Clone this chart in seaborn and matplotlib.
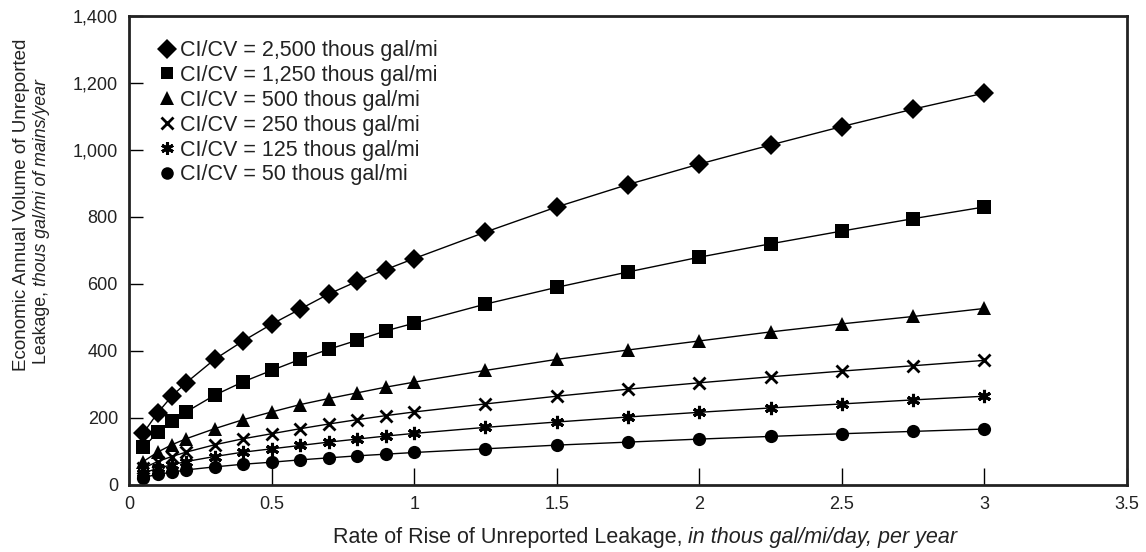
import matplotlib
matplotlib.use("Agg")
import matplotlib.pyplot as plt
import seaborn as sns
import pandas as pd
from matplotlib.lines import Line2D

rate = [0.05, 0.1, 0.15, 0.2, 0.3, 0.4, 0.5, 0.6, 0.7, 0.8, 0.9, 1.0,
        1.25, 1.5, 1.75, 2.0, 2.25, 2.5, 2.75, 3.0]

ci_2500 = [155, 215, 265, 305, 375, 430, 480, 525, 570, 608, 643, 676,
           755, 830, 897, 958, 1015, 1070, 1122, 1170]
ci_1250 = [112, 157, 190, 218, 268, 308, 342, 375, 405, 432, 460, 483,
           540, 590, 636, 680, 720, 758, 795, 830]
ci_500 = [70, 98, 120, 138, 168, 195, 218, 240, 258, 275, 292, 307,
          342, 375, 403, 430, 457, 481, 503, 527]
ci_250 = [50, 70, 85, 98, 120, 138, 153, 168, 182, 195, 207, 218,
          242, 265, 286, 305, 323, 340, 356, 372]
ci_125 = [35, 50, 60, 70, 85, 98, 108, 118, 128, 137, 146, 154,
          172, 188, 203, 217, 230, 242, 254, 265]
ci_50 = [22, 32, 38, 45, 54, 62, 68, 75, 81, 87, 92, 97,
         108, 119, 128, 137, 145, 153, 160, 167]

labels = ["CI/CV = 2,500 thous gal/mi", "CI/CV = 1,250 thous gal/mi",
          "CI/CV = 500 thous gal/mi", "CI/CV = 250 thous gal/mi",
          "CI/CV = 125 thous gal/mi", "CI/CV = 50 thous gal/mi"]
series = [ci_2500, ci_1250, ci_500, ci_250, ci_125, ci_50]

x_ticks = [0, 0.5, 1, 1.5, 2, 2.5, 3, 3.5]
x_tick_labels = ["0", "0.5", "1", "1.5", "2", "2.5", "3", "3.5"]
y_ticks = [0, 200, 400, 600, 800, 1000, 1200, 1400]
y_tick_labels = ["0", "200", "400", "600", "800", "1,000", "1,200", "1,400"]

x_label_parts = [("Rate of Rise of Unreported Leakage, ", "normal"),
                 ("in thous gal/mi/day, per year", "italic")]
y_label_line1 = [("Economic Annual Volume of Unreported", "normal")]
y_label_line2 = [("Leakage, ", "normal"),
                 ("thous gal/mi of mains/year", "italic")]

sns.set_theme(style="white")
plt.rcParams['font.family'] = ['Liberation Sans', 'DejaVu Sans']

marker_styles = [
    dict(marker='D', markersize=10.5, markeredgewidth=0),
    dict(marker='s', markersize=9.5, markeredgewidth=0),
    dict(marker='^', markersize=10, markeredgewidth=0),
    dict(marker='x', markersize=8.5, markeredgewidth=2),
    dict(marker=(6, 2, 0), markersize=9.5, markeredgewidth=2.2),
    dict(marker='o', markersize=9.5, markeredgewidth=0),
]

TXT = '#222222'
W, H = 1146, 552
fig = plt.figure(figsize=(W / 100, H / 100), dpi=100)
ax = fig.add_axes([0.1126, 0.1214, 0.9834 - 0.1126, 0.971 - 0.1214])

handles = []
for vals, lab, ms in zip(series, labels, marker_styles):
    df = pd.DataFrame({"rate": rate, "value": vals})
    sns.lineplot(data=df, x="rate", y="value", ax=ax, color="black",
                 linewidth=1.0, markerfacecolor="black",
                 markeredgecolor="black", **ms)
    hs = dict(ms)
    hs['markersize'] = ms['markersize'] * 0.95
    handles.append(Line2D([], [], linestyle='none', color='black',
                          markerfacecolor='black', markeredgecolor='black',
                          label=lab, **hs))

ax.set_xlim(0, 3.5)
ax.set_ylim(0, 1400)
ax.set_xticks(x_ticks)
ax.set_xticklabels(x_tick_labels)
ax.set_yticks(y_ticks)
ax.set_yticklabels(y_tick_labels)
ax.tick_params(axis='both', direction='in', length=10, width=1, color='black',
               labelsize=13, labelcolor=TXT, pad=8,
               left=True, bottom=True, top=False, right=False)
ax.tick_params(axis='x', pad=8, length=12)
for sp in ax.spines.values():
    sp.set_visible(True)
    sp.set_color(TXT)
    sp.set_linewidth(2)
ax.set_xlabel("")
ax.set_ylabel("")

renderer = fig.canvas.get_renderer()


def piece_widths(parts, size):
    ws = []
    for s, style in parts:
        t = fig.text(0, 0, s, fontsize=size, fontstyle=style)
        ws.append(t.get_window_extent(renderer).width)
        t.remove()
    return ws


def place_parts(parts, cx, cy, size, vertical=False):
    # cx, cy: centre in pixels from top-left
    ws = piece_widths(parts, size)
    total = sum(ws)
    pos = -total / 2
    for (s, style), w in zip(parts, ws):
        if vertical:
            x = cx / W
            y = (H - cy + pos) / H
            fig.text(x, y, s, fontsize=size, fontstyle=style, color=TXT,
                     rotation=90, rotation_mode='anchor', ha='left', va='center')
        else:
            x = (cx + pos) / W
            y = (H - cy) / H
            fig.text(x, y, s, fontsize=size, fontstyle=style, color=TXT,
                     ha='left', va='center')
        pos += w


place_parts(x_label_parts, 645, 537, 15.5)
place_parts(y_label_line1, 22, 205, 13.5, vertical=True)
place_parts(y_label_line2, 42, 222, 12.8, vertical=True)

leg = ax.legend(handles=handles, loc='upper left', frameon=False, fontsize=15.5,
                handlelength=0.7, handletextpad=0.25, labelspacing=0.18,
                bbox_to_anchor=(0.022, 0.967), borderaxespad=0.0)
for t in leg.get_texts():
    t.set_color(TXT)

fig.savefig("out.png", dpi=100)
